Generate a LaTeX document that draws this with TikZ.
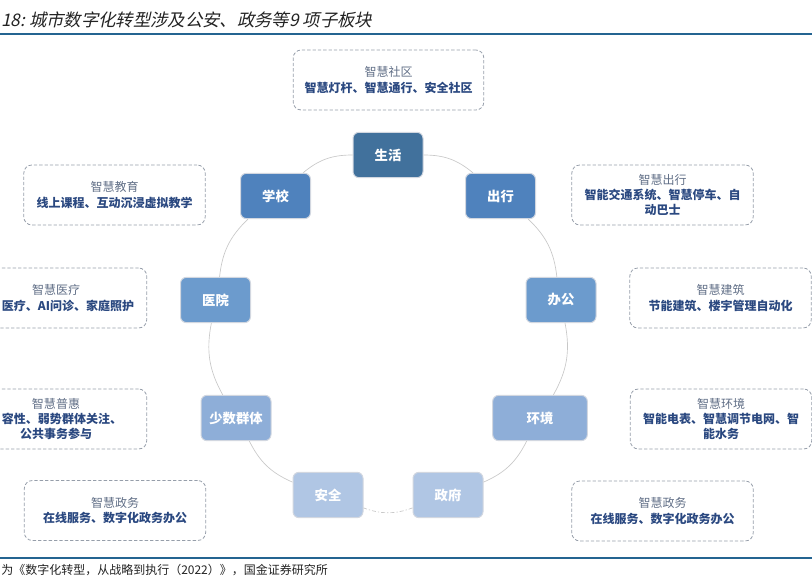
\documentclass[tikz,border=0pt]{standalone}
\usepackage{fontspec}
\setmainfont{Noto Sans CJK SC}
\newfontfamily\titlefont[FakeSlant=0.22]{Noto Sans CJK SC}
\definecolor{lifeblue}{RGB}{65,113,156}
\definecolor{midblue}{RGB}{79,130,189}
\definecolor{softblue}{RGB}{108,155,205}
\definecolor{paleblue}{RGB}{142,174,216}
\definecolor{faintblue}{RGB}{176,198,228}
\definecolor{hubedge}{RGB}{210,215,224}
\definecolor{ringgray}{RGB}{200,200,200}
\definecolor{tipedge}{RGB}{150,158,170}
\definecolor{tiphead}{RGB}{96,110,134}
\definecolor{tipblue}{RGB}{42,72,128}
\definecolor{rulerblue}{RGB}{36,100,145}
\definecolor{inkgray}{RGB}{35,35,35}
\newcommand{\tipline}[1]{{\bfseries\color{tipblue}#1}}
\tikzset{
  hub/.style={draw=hubedge, line width=0.75pt, rounded corners=4.5pt,
    minimum width=52.5pt, minimum height=34pt, inner sep=2pt, text=white,
    font=\fontsize{10pt}{12pt}\selectfont\bfseries},
  tip/.style={draw=tipedge, line width=0.6pt, dash pattern=on 2.5pt off 1.5pt,
    rounded corners=6pt, minimum width=136pt, minimum height=45pt,
    align=center, text=tiphead, font=\fontsize{9pt}{11.5pt}\selectfont},
  ring/.style={draw=ringgray, line width=0.5pt}
}
\begin{document}
\begin{tikzpicture}[x=0.75pt,y=0.75pt]
\useasboundingbox (0,0) rectangle (812,581);
\clip (0,0) rectangle (812,581);

\node[anchor=west, inner sep=0, font=\titlefont\fontsize{13pt}{15pt}\selectfont, text=inkgray] (title) at (1,561) {18:\ 城市数字化转型涉及公安、政务等9 项子板块};
\draw[rulerblue, line width=1.2pt] (0,547) -- (812,547);
\draw[rulerblue, line width=1.2pt] (0,23) -- (812,23);
\node[anchor=west, inner sep=0, font=\fontsize{9pt}{10pt}\selectfont, text=inkgray] (source) at (1,11) {为《数字化转型，从战略到执行（2022）》，国金证券研究所};

\node[hub, fill=lifeblue] (life) at (388,426) {生活};
\node[hub, fill=midblue] (travel) at (500.5,385) {出行};
\node[hub, fill=softblue] (office) at (561,281) {办公};
\node[hub, fill=paleblue, minimum width=71pt] (env) at (540,163) {环境};
\node[hub, fill=faintblue] (gov) at (448,86) {政府};
\node[hub, fill=faintblue] (safety) at (328,86) {安全};
\node[hub, fill=paleblue] (minority) at (236,163) {少数群体};
\node[hub, fill=softblue] (hospital) at (215.5,281) {医院};
\node[hub, fill=midblue] (school) at (275.5,385) {学校};

\draw[ring] (life) to[bend left=20] (travel);
\draw[ring] (travel) to[bend left=20] (office);
\draw[ring] (office) to[bend left=20] (env);
\draw[ring] (env) to[bend left=20] (gov);
\draw[ring, dash pattern=on 3pt off 1.5pt on 1pt off 1.5pt] (gov) to[bend left=20] (safety);
\draw[ring] (safety) to[bend left=20] (minority);
\draw[ring] (minority) to[bend left=20] (hospital);
\draw[ring] (hospital) to[bend left=20] (school);
\draw[ring] (school) to[bend left=20] (life);

\node[tip, minimum width=143pt] (tiplife) at (388.5,501) {智慧社区\\\tipline{智慧灯杆、智慧通行、安全社区}};
\node[tip] (tipschool) at (114.5,386) {智慧教育\\\tipline{线上课程、互动沉浸虚拟教学}};
\node[tip] (tiphospital) at (56,283) {智慧医疗\\\tipline{\hspace*{2em}医疗、AI问诊、家庭照护}};
\node[tip] (tipminority) at (56,162) {智慧普惠\\\tipline{\hspace*{1em}容性、弱势群体关注、}\\\tipline{公共事务参与}};
\node[tip] (tipgov) at (115,70.5) {智慧政务\\\tipline{在线服务、数字化政务办公}};
\node[tip] (tiptravel) at (662.5,386) {智慧出行\\\tipline{智能交通系统、智慧停车、自}\\\tipline{动巴士}};
\node[tip] (tipoffice) at (720.5,283) {智慧建筑\\\tipline{节能建筑、楼宇管理自动化}};
\node[tip] (tipenv) at (721,162) {智慧环境\\\tipline{智能电表、智慧调节电网、智}\\\tipline{能水务}};
\node[tip] (tipsafety) at (662.5,70) {智慧政务\\\tipline{在线服务、数字化政务办公}};
\end{tikzpicture}
\end{document}
